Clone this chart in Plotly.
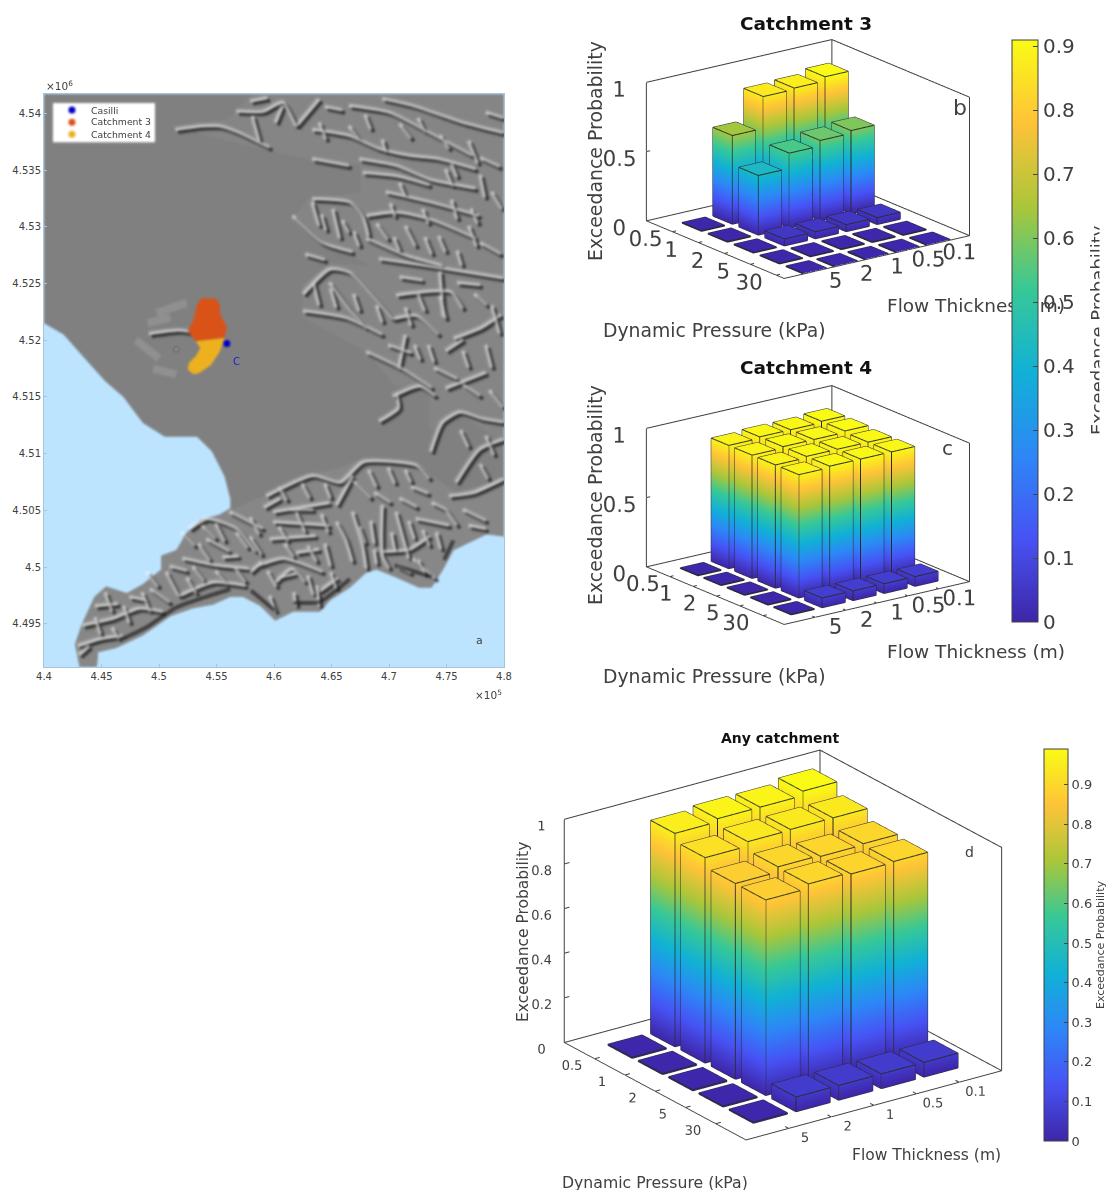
import plotly.graph_objects as go
import math
W,H=1115,1190
FONT='DejaVu Sans';TXT='#404040'
PRESS=["0.5","1","2","5","30"]
THICK=["5","2","1","0.5","0.1"]
ZB=[[.005,.64,.87,.88,.91],[.005,.43,.54,.58,.60],[.005,.05,.05,.05,.05],[.005,.005,.005,.005,.005],[.005,.005,.005,.005,.005]]
ZC=[[.005,.89,.90,.90,.91],[.005,.89,.90,.90,.91],[.005,.89,.90,.90,.90],[.005,.89,.90,.90,.90],[.005,.07,.07,.07,.07]]
ZD=[[.005,.956,.97,.97,.99],[.005,.92,.94,.943,.943],[.005,.877,.90,.895,.90],[.005,.876,.896,.889,.893],[.005,.066,.066,.066,.066]]
PARULA=[[0,'#3e26a8'],[1/7,'#4752f4'],[2/7,'#2d87f7'],[3/7,'#11b1d6'],[4/7,'#37c897'],[5/7,'#abc639'],[6/7,'#fec338'],[1,'#f9fb14']]
# map data: easting / northing in km
LAND=[(440,4521.5),(441.7,4520.5),(443.1,4518.9),(444,4517.9),(445.3,4516.4),(446.9,4515),(448.6,4512.7),(450.5,4511.5),(453.3,4511.5),(454.6,4510.2),(455.7,4508),(456.2,4506),(456.2,4505.2),(455.2,4504.6),(453.6,4504.2),(452.4,4503),(451.5,4501.5),(450.2,4501),(450.2,4499.8),(448.6,4498.5),(447.2,4497.7),(445.4,4498.3),(444.4,4497.4),(443.3,4495),(442.7,4493.2),(443.1,4491.2),(444.6,4491.2),(444.7,4492.5),(446.3,4492.9),(448.6,4494),(451,4495.7),(453,4496.4),(454.7,4496.7),(456.2,4497.4),(457.3,4497.4),(458.8,4496.6),(460.1,4495.3),(461.7,4496.1),(464,4496.1),(464.9,4497.1),(466.6,4498.2),(468,4499.5),(468.9,4499.8),(470.4,4499.2),(472.6,4498.2),(473.7,4498.2),(474.7,4499.8),(475.6,4501.5),(476.8,4502.1),(478.5,4502.9),(480,4502.7),(480,4541.7),(440,4541.7)]
HILLS_S=[(456.2,4505),(459.4,4506.4),(463.4,4508.2),(465.8,4508.8),(467.8,4509.6),(472.4,4509.3),(474,4507.9),(475.7,4506.6),(480,4507.7),(480,4502.7),(478.5,4502.9),(476.8,4502.1),(475.6,4501.5),(474.7,4499.8),(473.7,4498.2),(472.6,4498.2),(470.4,4499.2),(468.9,4499.8),(468,4499.5),(466.6,4498.2),(464.9,4497.1),(464,4496.1),(461.7,4496.1),(460.1,4495.3),(458.8,4496.6),(457.3,4497.4),(456.2,4497.4),(454.7,4496.7),(453,4496.4),(451,4495.7),(448.6,4494),(446.3,4492.9),(444.7,4492.5),(444.6,4491.2),(443.1,4491.2),(442.7,4493.2),(443.3,4495),(444.4,4497.4),(445.4,4498.3),(447.2,4497.7),(448.6,4498.5),(450.2,4499.8),(450.2,4501),(451.5,4501.5),(452.4,4503),(453.6,4504.2),(455.2,4504.6)]
HILLS_N=[(451.5,4538.7),(456,4539.5),(458,4541.7),(480,4541.7),(480,4511),(476,4513.5),(473.5,4512),(473.5,4515.5),(470.5,4516),(468,4519),(462.5,4522),(462.5,4525),(465,4526.8),(468.5,4526.5),(466.5,4527.5),(461.5,4530.5),(463,4532.5),(467.5,4533),(467.5,4535.5),(463,4536),(459.5,4536.7)]
RIDGES=[
[(451.5,4538.5),(453.9,4538.8),(455.3,4538.8),(456.8,4538.3),(459.7,4536.9)],
[(456.8,4540.1),(459.1,4540.1),(460.8,4540.9),(462,4538.8)],
[(463.4,4538.5),(466.6,4537.95),(469.2,4536.8),(471.8,4536.2),(474.4,4535.9),(477.6,4535)],
[(462,4538.8),(464,4541.2)],
[(466.6,4540.6),(470.1,4540),(473.6,4538.2),(477.3,4536.2)],
[(469.5,4541.2),(472.1,4540.6),(476.5,4539.1),(480,4538.2)],
[(467.5,4535.9),(470.7,4535.3),(473.6,4534.1),(477.6,4533.3)],
[(467.8,4534.7),(470.7,4534.4),(473.6,4533.6)],
[(469.8,4533),(473.6,4532.1),(477.9,4530.9)],
[(463.4,4535.9),(466.6,4535.3)],
[(460.8,4540.6),(460.2,4539.1)],[(464,4539.1),(464.6,4537.6)],[(469.5,4537.6),(469.8,4536.5)],[(466.6,4538.8),(467.5,4537.6)],
[(458.2,4539.7),(458.8,4537.5)],[(471,4539),(472,4537.7)],[(474.5,4538),(475.3,4536.8)],[(477,4537.5),(477.8,4535.5)],
[(461.7,4530.9),(464.3,4528.5),(466.9,4527.7)],
[(463.4,4532.4),(466.6,4532.1),(467.8,4530.9),(468.3,4529.1)],
[(468.1,4530.9),(470.7,4531.2),(473.6,4530.6),(477.6,4528.9)],
[(468.1,4528.9),(471.5,4527.4),(474.7,4526.5)],
[(469.2,4527.1),(473.3,4526.5),(480,4525.4)],
[(463.4,4532.1),(464,4530)],[(465.2,4531.5),(465.8,4528.9)],[(471.5,4530),(472.4,4528.2)],[(474.4,4529.1),(475,4527.7)],[(477,4530),(477.7,4528.2)],
[(469,4530.2),(470,4528.8)],[(475.5,4532.3),(476,4530.6)],
[(462.6,4524),(464.9,4526.2),(466.6,4525.9),(468.6,4523.9),(470.4,4521.8)],
[(462.6,4522.5),(466.3,4521.9),(469.5,4520.4)],
[(464.9,4525),(466.6,4522.7),(468.1,4521)],
[(470.7,4523.9),(475.4,4524.2),(476.5,4522.7)],
[(470.4,4521.8),(472.4,4522.1),(474.4,4520.4)],
[(468.1,4518.9),(471.2,4517.4),(473.8,4515.7)],
[(475.7,4520.1),(478,4521),(479.8,4522.2)],
[(471.5,4520.4),(470.9,4517.4)],[(475,4515.7),(478.5,4517.1)],[(479,4523),(479.7,4520.5)],
[(472.6,4524),(473.2,4522.5)],[(474.5,4523.8),(475,4521.8)],
[(470.4,4515),(472.7,4515.9),(474.1,4515)],
[(469.2,4512.8),(470.9,4514),(470.7,4515.3)],
[(473.7,4510.1),(474.7,4512.7),(476.2,4513.6),(478.2,4513),(480,4512.7)],
[(475.9,4507.4),(477.9,4510.3),(480,4511.2)],
[(475.3,4506.2),(477.4,4506.5),(480,4507.7)],
[(476.3,4512),(477,4510.5)],[(478.5,4511.5),(479.2,4509.8)],[(478,4509),(478.7,4507.7)],
[(459.4,4506.2),(463.4,4508),(465.8,4507.4),(467.8,4509.2),(472.4,4508.9),(473.6,4507.7)],
[(465.5,4505.4),(466.9,4508)],
[(460,4504.8),(464.9,4505.6)],[(460,4503.9),(464.9,4503.6)],[(459.7,4502.4),(463.7,4502.7)],
[(458.8,4500.1),(460.8,4500.7),(464.3,4499.5)],
[(452.7,4503.3),(454.2,4504.2),(456.8,4503.3),(458.5,4501.3)],
[(452.1,4500.7),(455,4500.1),(457.9,4499.8)],
[(451.8,4497.4),(454.7,4498.6),(457.6,4498.3)],
[(465.5,4503.9),(466.3,4502.4),(466.9,4500.4)],
[(466.9,4504.8),(467.8,4501.8),(468.1,4499.8)],
[(469.5,4505.4),(469.5,4501),(470.1,4499.8)],
[(470.7,4504.8),(471.8,4500.7)],
[(469.5,4501.3),(471.8,4501.5),(473.6,4502.7)],
[(472.4,4504.2),(475.3,4503.6)],[(472.1,4500.7),(474.1,4498.9)],
[(454.2,4502.4),(456.2,4501.3)],[(460.2,4498.6),(461.6,4499.8),(462.8,4498.6)],
[(459.7,4497.4),(460.2,4496)],[(461.8,4497.7),(462,4496.5)],[(463.8,4498.3),(464,4496.5)],
[(456.2,4504.8),(459.1,4503.3)],[(458,4502.6),(459,4501)],[(462,4504.8),(462.8,4503)],[(464.5,4502),(465,4500)],[(453.5,4502),(454.5,4500.5)],[(456.6,4500),(457.6,4498.6)],
[(472,4507),(473.5,4506.4)],[(476.5,4505),(478.5,4504)],
[(443.4,4494.8),(446,4495.4),(448.3,4496.3),(450.4,4496)],
[(445.4,4497.7),(446,4496)],[(443,4493),(444.9,4493.6),(446.9,4493.9)],
[(448.6,4497.7),(449.3,4496)],[(450.7,4499.5),(451.8,4497.4)],[(443.1,4492.2),(444,4493)],
[(449.2,4520.5),(451.8,4520.8),(453,4520.6)],
[(455,4503.8),(455.8,4502.2)],[(456.8,4503),(457.8,4501.6)],[(458,4504.3),(458.8,4502.8)],[(453,4500),(454,4498.7)],[(455,4499.6),(456,4498.4)],[(452.5,4499),(453.3,4497.6)],[(460.5,4503.5),(461.3,4502.2)],[(463,4501.8),(463.8,4500.4)],[(461,4502),(461.8,4500.8)],[(459.5,4499.6),(460.3,4498.2)],[(463,4499.2),(463.5,4497.5)],[(465,4499.5),(465.5,4498)],[(467.5,4503.5),(468,4502)],[(468.5,4504),(468.8,4502)],[(468.8,4501.5),(469,4500.2)],[(470.3,4503),(470.6,4501.4)],[(471.8,4504),(472.3,4502.4)],[(473,4503.2),(473.6,4501.8)],[(474.2,4503),(474.6,4501.5)],[(472.6,4500.6),(473.2,4499.3)],[(460.5,4507),(461.2,4505.8)],[(462.5,4507.3),(463.2,4506)],[(464.5,4507.3),(465,4506)],[(468.3,4508.5),(469,4507)],[(470,4508.7),(470.6,4507.3)],[(471.5,4508.5),(472,4507.4)],[(447,4496.5),(447.5,4495)],[(446,4494.6),(446.6,4493.6)],[(444.5,4495.5),(445,4494)],
[(472.6,4539.5),(473.2,4538.3)],[(468,4539.8),(468.5,4538.5)],[(475.5,4535.5),(476,4534.3)],[(471,4533.8),(471.5,4532.6)],[(473,4531.5),(473.5,4530.2)],[(470.2,4532),(470.6,4530.8)],[(475,4535),(475.6,4533.5)],[(478,4534.5),(478.4,4532.5)],[(477.2,4531.5),(477.8,4530.2)],[(466,4530.5),(466.6,4529.4)],[(464.2,4531),(464.6,4529.6)],[(467,4529.5),(467.5,4528.2)],[(470.5,4529),(471,4527.8)],[(473.2,4529),(473.8,4527.5)],[(476,4527.8),(476.4,4526.5)],[(463.5,4525),(464,4523)],[(465,4524.5),(465.5,4522.8)],[(467,4524),(467.5,4522.5)],[(469,4523),(469.5,4521.5)],[(471.5,4522.8),(472,4521.2)],[(473.5,4519.5),(474,4518)],[(472.3,4519.5),(472.8,4518.2)],[(476.5,4519),(477,4517.5)],[(478.5,4519.5),(479,4517.5)],[(474.5,4526),(474.8,4522)],
[(452,4503),(453.2,4501.8)],[(453.8,4503.6),(455,4502.4)],[(455.6,4500.8),(457,4500.9)],[(451,4500),(452.5,4499.6)],[(458,4499.5),(459,4500.4)],[(459.2,4505.2),(460.6,4506)],[(461.5,4505),(463.5,4505)],[(462,4501.2),(464,4501.5)],[(464.2,4504.6),(464.8,4503)],[(460.5,4499),(462,4499.4)],[(464,4497.8),(465.6,4499)],[(467,4507.5),(468.5,4506)],[(468.8,4506.5),(470.2,4505.6)],[(471,4506),(472.5,4505.2)],[(473.8,4505.6),(475,4505)],[(475,4505),(476,4503.6)],[(477,4503.6),(478.5,4503.3)],[(470.8,4500),(472,4499.4)],[(449,4499.5),(450,4498.2)],[(447.5,4497.3),(449,4497)],[(444.5,4496.5),(446.5,4496.7)],[(449.3,4498),(451,4496.8)],
[(478,4528.5),(479.8,4527.5)],[(478.5,4540),(480,4539.5)],[(458,4541),(459.5,4541.3)],[(464.5,4540.5),(466,4540.2)],[(478,4536),(479.7,4535.2)],[(479,4533),(479.9,4531.5)],[(471,4525.5),(473,4525.2)],[(476,4525),(478,4524.8)],[(477.5,4524),(478.6,4523)],[(475,4519),(476.5,4520)],[(470,4519.5),(472,4518.8)],[(474,4517.5),(476,4516.5)],[(476.5,4516),(478,4515)],[(478.8,4515.5),(480,4514)],[(462.8,4527.5),(464.5,4527)],
]
VOLCANO_LIGHT=[[(449.8,4522.4),(452.4,4523.3)],[(448,4520),(450,4518.4)],[(449,4521.5),(451,4522)],[(449.5,4517.5),(451.5,4517)]]
SOUTH_DARK=[[(447,4493.6),(449,4494.6),(451.5,4496.3),(454,4497.2),(456.2,4497.9)],[(458,4497.8),(460.1,4496)],[(461.7,4496.7),(464,4496.8),(466.6,4498.8)],[(470.5,4500),(473.7,4499)],[(474.8,4500.5),(475.6,4502.2)]]
CATCH3=[(453.7,4523.7),(454.9,4523.7),(455.3,4523.1),(455.3,4522.3),(455.9,4521.2),(455.7,4520.2),(453.2,4519.9),(452.5,4520.8),(453,4521.8),(453.3,4523.1)]
CATCH4=[(453.2,4519.9),(455.7,4520.2),(455.3,4519),(454.5,4517.8),(453.5,4517.1),(453,4517),(452.5,4517.4),(452.6,4518),(453.2,4518.6),(453.6,4519.3)]
CASILLI=(455.9,4519.7)
CRATER=(451.5,4519.2)
LEG_BOX=[(440.78,4540.9),(449.65,4540.9),(449.65,4537.45),(440.78,4537.45)]
LEG_NAMES=['Casilli','Catchment 3','Catchment 4']
LEG_COL=['#0000cc','#d95319','#edb120']
LEG_E=[442.43,442.43,442.43]
LEG_N=[4540.3,4539.2,4538.15]
XT=[440,445,450,455,460,465,470,475,480]
XTL=['4.4','4.45','4.5','4.55','4.6','4.65','4.7','4.75','4.8']
YT=[4495,4500,4505,4510,4515,4520,4525,4530,4535,4540]
YTL=['4.495','4.5','4.505','4.51','4.515','4.52','4.525','4.53','4.535','4.54']
fig=go.Figure()
def xy(p):return [a*1000 for a,_ in p],[b*1000 for _,b in p]
def poly(p,col):
    x,y=xy(p)
    fig.add_trace(go.Scatter(x=x,y=y,mode='lines',fill='toself',fillcolor=col,line=dict(width=0),showlegend=False,hoverinfo='skip'))
poly(LAND,'#808080');poly(HILLS_S,'#878787');poly(HILLS_N,'#858585')
def strokes(lst,col,wd,dx,dy,op):
    xs=[];ys=[]
    for s in lst:
        x,y=xy(s)
        xs+=[v+dx for v in x]+[None];ys+=[v+dy for v in y]+[None]
    fig.add_trace(go.Scatter(x=xs,y=ys,mode='lines',line=dict(color=col,width=wd,shape='spline',smoothing=.6),opacity=op,connectgaps=False,showlegend=False,hoverinfo='skip'))
strokes(VOLCANO_LIGHT,'#c8c8c8',8,0,0,.22)
strokes(RIDGES,'#101010',5,190,-190,.22)
strokes(RIDGES,'#050505',2.2,160,-160,.62)
strokes(RIDGES,'#ffffff',5,-120,120,.18)
strokes(RIDGES,'#ffffff',2,-70,70,.5)
strokes(SOUTH_DARK,'#141414',4,0,150,.6)
poly(CATCH3,'#d95319');poly(CATCH4,'#edb120')
fig.add_trace(go.Scatter(x=[CRATER[0]*1000],y=[CRATER[1]*1000],mode='markers',marker=dict(size=4,color='#c8c8c8',line=dict(color='#303030',width=1)),showlegend=False,hoverinfo='skip'))
fig.add_trace(go.Scatter(x=[CASILLI[0]*1000],y=[CASILLI[1]*1000],mode='markers',marker=dict(size=7,color='#0000cc'),showlegend=False,hoverinfo='skip'))
poly(LEG_BOX,'white')
fig.add_trace(go.Scatter(x=[v*1000 for v in LEG_E],y=[v*1000 for v in LEG_N],mode='markers',marker=dict(size=7,color=LEG_COL),showlegend=False,hoverinfo='skip'))
mx=dict(showgrid=False,zeroline=False,showline=True,linecolor='#a9c4d4',linewidth=1,mirror=True,ticks='inside',ticklen=3,tickcolor='#a9c4d4',tickfont=dict(family=FONT,size=10,color=TXT))
fig.update_layout(xaxis=dict(mx,domain=[44/W,504/W],range=[440000,480000],tickvals=[v*1000 for v in XT],ticktext=XTL),
  yaxis=dict(mx,domain=[1-667/H,1-94/H],range=[4491200,4541700],tickvals=[v*1000 for v in YT],ticktext=YTL),plot_bgcolor='#bde4ff')
def panel(name,Z,cx,cy,hw,hh,asp,elev,phi,D,xlim,ylim,w,cmax,cb,ts,tl):
    X=[];Y=[];Zv=[];I=[];J=[];K=[];ex=[];ey=[];ez=[]
    for i,row in enumerate(Z):
        for j,z in enumerate(row):
            x0,x1=i+1-w/2,i+1+w/2;y0,y1=j+1-w/2,j+1+w/2
            n=len(X)
            cs=[(x0,y0,0),(x1,y0,0),(x1,y1,0),(x0,y1,0),(x0,y0,z),(x1,y0,z),(x1,y1,z),(x0,y1,z)]
            for c in cs:X.append(c[0]);Y.append(c[1]);Zv.append(c[2])
            for t in [(4,5,6),(4,6,7),(0,1,5),(0,5,4),(1,2,6),(1,6,5),(2,3,7),(2,7,6),(3,0,4),(3,4,7)]:
                I.append(n+t[0]);J.append(n+t[1]);K.append(n+t[2])
            for a,b in [(0,1),(1,2),(2,3),(3,0),(4,5),(5,6),(6,7),(7,4),(0,4),(1,5),(2,6),(3,7)]:
                for q in (a,b):
                    ex.append(cs[q][0]);ey.append(cs[q][1]);ez.append(cs[q][2])
                ex.append(None);ey.append(None);ez.append(None)
    fig.add_trace(go.Mesh3d(x=X,y=Y,z=Zv,i=I,j=J,k=K,intensity=Zv,colorscale=PARULA,cmin=0,cmax=cmax,showscale=cb is not None,colorbar=cb,flatshading=True,lighting=dict(ambient=1,diffuse=0,specular=0,fresnel=0),scene=name,hoverinfo='skip'))
    fig.add_trace(go.Scatter3d(x=ex,y=ey,z=ez,mode='lines',line=dict(color='#2a2a2a',width=2),scene=name,showlegend=False,hoverinfo='skip'))
    xa,xb=xlim;ya,yb=ylim
    zt=[0,.5,1] if name!='scene3' else [0,.2,.4,.6,.8,1]
    fx=[xa,xa,None,xb,xb,None,xa,xa,None,xa,xa,xb,None,xa,xa,xb]
    fy=[yb,yb,None,yb,yb,None,ya,ya,None,ya,yb,yb,None,ya,yb,yb]
    fz=[0,1,None,0,1,None,0,1,None,1,1,1,None,0,0,0]
    for v in [1,2,3,4,5]:
        fx+=[None,v,v,None,xb,xb-.12];fy+=[None,ya,ya+.12,None,v,v];fz+=[None,0,0,None,0,0]
    for v in zt:
        fx+=[None,xa,xa];fy+=[None,ya,ya+.12];fz+=[None,v,v]
    fig.add_trace(go.Scatter3d(x=fx,y=fy,z=fz,mode='lines',line=dict(color='#404040',width=2),scene=name,showlegend=False,hoverinfo='skip'))
    ax=dict(showbackground=False,showgrid=False,zeroline=False,showspikes=False,showline=True,linecolor='#404040',linewidth=2,ticks='outside',ticklen=tl,tickcolor='rgba(0,0,0,0)',tickangle=0,title=dict(text=''),tickfont=dict(family=FONT,size=ts,color=TXT))
    r=math.radians
    eye=dict(x=D*math.cos(r(elev))*math.sin(r(phi)),y=-D*math.cos(r(elev))*math.cos(r(phi)),z=D*math.sin(r(elev)))
    lay=dict(domain=dict(x=[(cx-hw)/W,(cx+hw)/W],y=[1-(cy+hh)/H,1-(cy-hh)/H]),
      aspectmode='manual',aspectratio=dict(x=asp[0],y=asp[1],z=asp[2]),
      camera=dict(projection=dict(type='orthographic'),eye=eye,up=dict(x=0,y=0,z=1),center=dict(x=0,y=0,z=0)),
      xaxis=dict(ax,range=list(xlim),tickvals=[1,2,3,4,5],ticktext=PRESS),
      yaxis=dict(ax,range=list(ylim),tickvals=[1,2,3,4,5],ticktext=THICK),
      zaxis=dict(ax,range=[0,1],tickvals=zt,ticktext=[f'{v:g}' for v in zt]))
    fig.layout[name]=lay
CT=[0,.1,.2,.3,.4,.5,.6,.7,.8,.9]
cb1=dict(x=1012/W,xanchor='left',thickness=26,thicknessmode='pixels',len=582,lenmode='pixels',y=1-622/H,yanchor='bottom',tickvals=CT,ticktext=[f'{v:g}' for v in CT],ticks='inside',ticklen=5,tickprefix=' ',tickfont=dict(family=FONT,size=20,color=TXT),outlinecolor=TXT,outlinewidth=1,xpad=0,ypad=0)
cb2=dict(x=1044/W,xanchor='left',thickness=24,thicknessmode='pixels',len=392,lenmode='pixels',y=1-1141/H,yanchor='bottom',tickvals=CT,ticktext=[f'{v:g}' for v in CT],ticks='inside',ticklen=4,tickfont=dict(family=FONT,size=13,color=TXT),outlinecolor=TXT,outlinewidth=1,xpad=0,ypad=0,title=dict(text='Exceedance Probability',side='right',font=dict(family=FONT,size=11,color=TXT)))
panel('scene',ZB,808,159,235,155,(1.49,1.49,.94),18.1,53.4,2,(0,5.3),(0,6),.75,.91,cb1,16,16)
panel('scene2',ZC,808,505,235,155,(1.49,1.49,.94),18.1,53.4,2,(0,5.9),(0,6),.75,.91,None,16,16)
panel('scene3',ZD,783,945,290,240,(1.307,1.307,1.006),22.4,54.6,2,(0,6),(0,6),.8,.99,cb2,12.5,10)
def note(t,x,y,size,col=TXT,bold=False,angle=0,anchor='center'):
    fig.add_annotation(text=f'<b>{t}</b>' if bold else t,x=x/W,y=1-y/H,xref='paper',yref='paper',showarrow=False,textangle=angle,xanchor=anchor,yanchor='middle',font=dict(family=FONT,size=size,color=col))
note('Catchment 3',806,23,18.5,'#111111',True)
note('Catchment 4',806,367,18.5,'#111111',True)
note('Any catchment',780,738,14,'#111111',True)
note('Exceedance Probability',595,151,18.9,angle=-90)
note('Exceedance Probability',595,495,18.9,angle=-90)
note('Exceedance Probability',523,932,15.5,angle=-90)
note('Dynamic Pressure (kPa)',714,330,18.8)
note('Dynamic Pressure (kPa)',714,676,18.8)
note('Dynamic Pressure (kPa)',655,1182,15.7)
note('Flow Thickness (m)',976,305,18.5)
note('Flow Thickness (m)',976,651,18.5)
note('Flow Thickness (m)',926,1155,15.5)
note('Exceedance Probability',1097,330,18,angle=-90)
note('b',960,107,22);note('c',947,448,20);note('d',969,852,14);note('a',479,640,11)
note('C',236,361,10,'#1a1ae0')
note('×10<sup>6</sup>',44,86,10.5,anchor='left')
note('×10<sup>5</sup>',504,694,10.5,anchor='right')
for nm,y in zip(LEG_NAMES,[110,122,134]):
    note(nm,89,y,9.3,anchor='left')
fig.add_annotation(text=' ',x=1108/W,y=1-330/H,xref='paper',yref='paper',showarrow=False,width=14,height=250,bgcolor='white',xanchor='center',yanchor='middle')
fig.update_layout(width=W,height=H,margin=dict(l=0,r=0,t=0,b=0,autoexpand=False),paper_bgcolor='white',showlegend=False)
JS="""document.body.style.margin='0';
function fixcb(){var il=document.querySelector('.infolayer');if(il){il.querySelectorAll('.colorbar').forEach(function(c){il.appendChild(c);});}
document.querySelectorAll('.cartesianlayer .scatterlayer').forEach(function(s){s.style.filter='blur(0.8px)';});}
fixcb();setTimeout(fixcb,300);setTimeout(fixcb,1000);"""
fig.write_html('out.html',post_script=JS,config=dict(displayModeBar=False))
